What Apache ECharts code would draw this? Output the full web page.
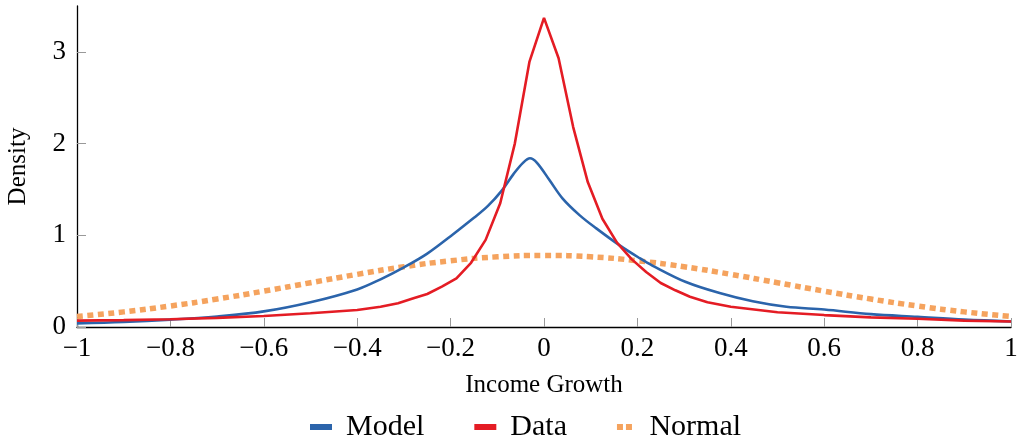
<!DOCTYPE html>
<html>
<head>
<meta charset="utf-8">
<script src="https://cdn.jsdelivr.net/npm/echarts@6/dist/echarts.min.js"></script>
<style>html,body{margin:0;padding:0;background:#fff}#c{width:1019px;height:445px}</style>
</head>
<body>
<div id="c"></div>
<script>
const seriesNames = ['Model', 'Data', 'Normal'];
const yTicks = [0, 1, 2, 3];

const modelX = [-1, -0.9, -0.8, -0.7, -0.6, -0.5, -0.4, -0.35, -0.3, -0.25, -0.2, -0.15, -0.12, -0.09, -0.065, -0.045, -0.03, -0.015, 0.012, 0.04, 0.076, 0.112, 0.162, 0.205, 0.232, 0.304, 0.376, 0.447, 0.519, 0.6, 0.7, 0.8, 0.9, 1];
const modelY = [0.04, 0.055, 0.08, 0.115, 0.17, 0.27, 0.41, 0.52, 0.65, 0.80, 0.99, 1.19, 1.32, 1.49, 1.67, 1.79, 1.84, 1.79, 1.60, 1.40, 1.22, 1.075, 0.89, 0.75, 0.67, 0.49, 0.37, 0.28, 0.22, 0.19, 0.14, 0.11, 0.08, 0.06];

const dataX = [-1, -0.9, -0.8, -0.7, -0.6, -0.5, -0.4, -0.35, -0.3125, -0.28125, -0.25, -0.21875, -0.1875, -0.15625, -0.125, -0.09375, -0.0625, -0.03125, 0, 0.03125, 0.0625, 0.09375, 0.125, 0.15625, 0.1875, 0.21875, 0.25, 0.28125, 0.3125, 0.35, 0.4, 0.5, 0.6, 0.7, 0.8, 0.9, 1];
const dataY = [0.07, 0.075, 0.085, 0.10, 0.12, 0.15, 0.185, 0.22, 0.26, 0.31, 0.36, 0.44, 0.53, 0.70, 0.95, 1.35, 2.0, 2.89, 3.37, 2.93, 2.18, 1.58, 1.18, 0.92, 0.74, 0.60, 0.48, 0.40, 0.33, 0.27, 0.22, 0.16, 0.13, 0.105, 0.09, 0.07, 0.06];

const normalX = [-1, -0.9, -0.8, -0.7, -0.6, -0.5, -0.4, -0.3, -0.2, -0.1, 0, 0.1, 0.2, 0.3, 0.4, 0.5, 0.6, 0.7, 0.8, 0.9, 1];
const normalY = [0.115, 0.165, 0.229, 0.305, 0.391, 0.483, 0.574, 0.657, 0.722, 0.765, 0.78, 0.765, 0.722, 0.657, 0.574, 0.483, 0.391, 0.305, 0.229, 0.165, 0.115];

const pairs = (xs, ys) => xs.map((x, i) => [x, ys[i]]);
const FONT = 'Liberation Serif';
const fmt = v => { const r = Math.round(v * 10) / 10; return r === 0 ? '0' : (r < 0 ? '\u2212' : '') + Math.abs(r); };

const chart = echarts.init(document.getElementById('c'), null, {renderer: 'canvas'});
chart.setOption({
  animation: false,
  textStyle: {fontFamily: FONT, color: '#000'},
  grid: {left: 77, right: 8, top: 6, bottom: 118, containLabel: false, outerBoundsMode: 'none'},
  legend: {
    top: 407, left: 305, itemGap: 50, itemWidth: 22, itemHeight: 6,
    textStyle: {fontFamily: FONT, fontSize: 30, color: '#000', padding: [0, 0, 0, 9]},
    data: [
      {name: 'Model', icon: 'rect'},
      {name: 'Data', icon: 'rect'},
      {name: 'Normal', icon: 'path://M0,0h6v6h-6z M9,0h6v6h-6z'}
    ]
  },
  xAxis: {
    type: 'value', min: -1, max: 1, interval: 0.2,
    name: 'Income Growth', nameLocation: 'middle', nameGap: 46,
    nameTextStyle: {fontFamily: FONT, fontSize: 25, color: '#000'},
    axisLine: {show: true, onZero: false, lineStyle: {color: '#000', width: 1.3}},
    axisTick: {show: true, inside: true, length: 9, lineStyle: {color: '#999', width: 1}},
    axisLabel: {formatter: fmt, fontFamily: FONT, fontSize: 27, color: '#000', margin: 8},
    splitLine: {show: false}
  },
  yAxis: {
    type: 'value', min: 0, max: 3.5, interval: 1,
    name: 'Density', nameLocation: 'middle', nameGap: 46, nameRotate: 90,
    nameTextStyle: {fontFamily: FONT, fontSize: 25, color: '#000'},
    axisLine: {show: true, onZero: false, lineStyle: {color: '#000', width: 1.3}},
    axisTick: {show: true, inside: true, length: 9, customValues: yTicks, lineStyle: {color: '#999', width: 1}},
    axisLabel: {customValues: yTicks, fontFamily: FONT, fontSize: 27, color: '#000', margin: 11},
    splitLine: {show: false}
  },
  series: [
    {name: 'Model', type: 'line', data: pairs(modelX, modelY), smooth: 0.35, showSymbol: false,
     lineStyle: {color: '#2B64AB', width: 2.6}, itemStyle: {color: '#2B64AB'}, z: 3},
    {name: 'Data', type: 'line', data: pairs(dataX, dataY), smooth: false, showSymbol: false,
     lineStyle: {color: '#E41C24', width: 2.6}, itemStyle: {color: '#E41C24'}, z: 4},
    {name: 'Normal', type: 'line', data: pairs(normalX, normalY), smooth: 0.5, showSymbol: false,
     lineStyle: {color: '#F5A35E', width: 5.5, type: [6, 4.5], cap: 'butt'}, itemStyle: {color: '#F5A35E'}, z: 2}
  ]
});
</script>
</body>
</html>
